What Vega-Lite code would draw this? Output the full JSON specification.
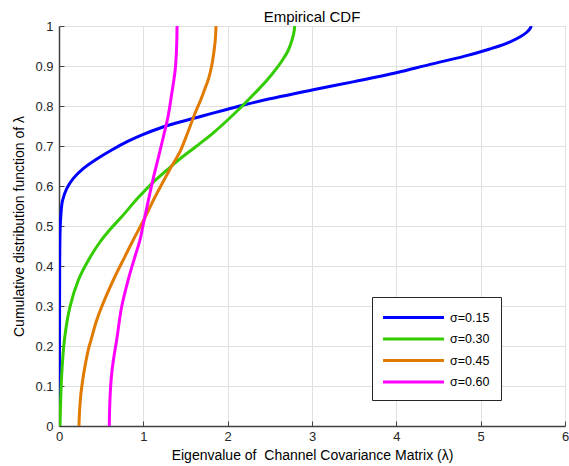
{
  "$schema": "https://vega.github.io/schema/vega-lite/v6.json",
  "width": 506,
  "height": 400,
  "autosize": {"type": "none"},
  "padding": {"left": 59, "top": 26, "right": 4, "bottom": 40},
  "background": "white",
  "title": {"text": "Empirical CDF", "font": "Liberation Sans", "fontSize": 15, "fontWeight": "normal", "color": "#000000", "anchor": "middle", "offset": -5},
  "config": {
    "view": {"stroke": null},
    "axis": {
      "labelFont": "Liberation Sans", "labelFontSize": 13, "labelColor": "#262626",
      "titleFont": "Liberation Sans", "titleFontSize": 14, "titleFontWeight": "normal", "titleColor": "#000000",
      "gridColor": "#e0e0e0", "gridWidth": 1, "gridOpacity": 1,
      "domainColor": "#404040", "domainWidth": 1.5, "tickColor": "#404040", "tickSize": -5, "tickWidth": 1
    },
    "legend": {"labelFont": "Liberation Sans", "labelFontSize": 12.5, "labelColor": "#000000"}
  },
  "data": {"values": [
    {"s": "σ=0.15", "x": 0.004, "y": 0},
    {"s": "σ=0.15", "x": 0.005, "y": 0.1},
    {"s": "σ=0.15", "x": 0.006, "y": 0.2},
    {"s": "σ=0.15", "x": 0.007, "y": 0.3},
    {"s": "σ=0.15", "x": 0.008, "y": 0.4},
    {"s": "σ=0.15", "x": 0.01, "y": 0.45},
    {"s": "σ=0.15", "x": 0.013, "y": 0.49},
    {"s": "σ=0.15", "x": 0.02, "y": 0.52},
    {"s": "σ=0.15", "x": 0.04, "y": 0.562},
    {"s": "σ=0.15", "x": 0.09, "y": 0.593},
    {"s": "σ=0.15", "x": 0.17, "y": 0.619},
    {"s": "σ=0.15", "x": 0.29, "y": 0.644},
    {"s": "σ=0.15", "x": 0.43, "y": 0.665},
    {"s": "σ=0.15", "x": 0.625, "y": 0.69},
    {"s": "σ=0.15", "x": 0.82, "y": 0.712},
    {"s": "σ=0.15", "x": 1.0, "y": 0.729},
    {"s": "σ=0.15", "x": 1.2, "y": 0.745},
    {"s": "σ=0.15", "x": 1.4, "y": 0.758},
    {"s": "σ=0.15", "x": 1.7, "y": 0.775},
    {"s": "σ=0.15", "x": 2.0, "y": 0.792},
    {"s": "σ=0.15", "x": 2.2, "y": 0.803},
    {"s": "σ=0.15", "x": 2.5, "y": 0.818},
    {"s": "σ=0.15", "x": 3.0, "y": 0.840},
    {"s": "σ=0.15", "x": 3.5, "y": 0.861},
    {"s": "σ=0.15", "x": 4.0, "y": 0.883},
    {"s": "σ=0.15", "x": 4.4, "y": 0.904},
    {"s": "σ=0.15", "x": 4.8, "y": 0.924},
    {"s": "σ=0.15", "x": 5.1, "y": 0.942},
    {"s": "σ=0.15", "x": 5.3, "y": 0.956},
    {"s": "σ=0.15", "x": 5.47, "y": 0.973},
    {"s": "σ=0.15", "x": 5.55, "y": 0.985},
    {"s": "σ=0.15", "x": 5.59, "y": 0.995},
    {"s": "σ=0.15", "x": 5.6, "y": 1.0},
    {"s": "σ=0.30", "x": 0.012, "y": 0},
    {"s": "σ=0.30", "x": 0.018, "y": 0.05},
    {"s": "σ=0.30", "x": 0.03, "y": 0.12},
    {"s": "σ=0.30", "x": 0.064, "y": 0.215},
    {"s": "σ=0.30", "x": 0.13, "y": 0.298},
    {"s": "σ=0.30", "x": 0.23, "y": 0.365},
    {"s": "σ=0.30", "x": 0.35, "y": 0.415},
    {"s": "σ=0.30", "x": 0.486, "y": 0.46},
    {"s": "σ=0.30", "x": 0.6, "y": 0.49},
    {"s": "σ=0.30", "x": 0.743, "y": 0.523},
    {"s": "σ=0.30", "x": 0.94, "y": 0.571},
    {"s": "σ=0.30", "x": 1.14, "y": 0.614},
    {"s": "σ=0.30", "x": 1.34, "y": 0.651},
    {"s": "σ=0.30", "x": 1.435, "y": 0.668},
    {"s": "σ=0.30", "x": 1.633, "y": 0.70},
    {"s": "σ=0.30", "x": 1.83, "y": 0.733},
    {"s": "σ=0.30", "x": 2.0, "y": 0.765},
    {"s": "σ=0.30", "x": 2.185, "y": 0.8025},
    {"s": "σ=0.30", "x": 2.34, "y": 0.836},
    {"s": "σ=0.30", "x": 2.46, "y": 0.863},
    {"s": "σ=0.30", "x": 2.58, "y": 0.894},
    {"s": "σ=0.30", "x": 2.66, "y": 0.918},
    {"s": "σ=0.30", "x": 2.72, "y": 0.94},
    {"s": "σ=0.30", "x": 2.76, "y": 0.963},
    {"s": "σ=0.30", "x": 2.785, "y": 0.983},
    {"s": "σ=0.30", "x": 2.795, "y": 1.0},
    {"s": "σ=0.45", "x": 0.237, "y": 0},
    {"s": "σ=0.45", "x": 0.242, "y": 0.03},
    {"s": "σ=0.45", "x": 0.255, "y": 0.07},
    {"s": "σ=0.45", "x": 0.27, "y": 0.098},
    {"s": "σ=0.45", "x": 0.3, "y": 0.14},
    {"s": "σ=0.45", "x": 0.35, "y": 0.193},
    {"s": "σ=0.45", "x": 0.38, "y": 0.215},
    {"s": "σ=0.45", "x": 0.44, "y": 0.26},
    {"s": "σ=0.45", "x": 0.506, "y": 0.298},
    {"s": "σ=0.45", "x": 0.644, "y": 0.365},
    {"s": "σ=0.45", "x": 0.78, "y": 0.423},
    {"s": "σ=0.45", "x": 0.88, "y": 0.465},
    {"s": "σ=0.45", "x": 1.0, "y": 0.513},
    {"s": "σ=0.45", "x": 1.14, "y": 0.573},
    {"s": "σ=0.45", "x": 1.32, "y": 0.644},
    {"s": "σ=0.45", "x": 1.435, "y": 0.686},
    {"s": "σ=0.45", "x": 1.52, "y": 0.73},
    {"s": "σ=0.45", "x": 1.60, "y": 0.775},
    {"s": "σ=0.45", "x": 1.68, "y": 0.815},
    {"s": "σ=0.45", "x": 1.73, "y": 0.843},
    {"s": "σ=0.45", "x": 1.77, "y": 0.866},
    {"s": "σ=0.45", "x": 1.81, "y": 0.9},
    {"s": "σ=0.45", "x": 1.84, "y": 0.94},
    {"s": "σ=0.45", "x": 1.855, "y": 0.97},
    {"s": "σ=0.45", "x": 1.862, "y": 1.0},
    {"s": "σ=0.60", "x": 0.597, "y": 0},
    {"s": "σ=0.60", "x": 0.6, "y": 0.04},
    {"s": "σ=0.60", "x": 0.612, "y": 0.098},
    {"s": "σ=0.60", "x": 0.632, "y": 0.145},
    {"s": "σ=0.60", "x": 0.664, "y": 0.19},
    {"s": "σ=0.60", "x": 0.684, "y": 0.215},
    {"s": "σ=0.60", "x": 0.743, "y": 0.298},
    {"s": "σ=0.60", "x": 0.82, "y": 0.365},
    {"s": "σ=0.60", "x": 0.90, "y": 0.423},
    {"s": "σ=0.60", "x": 0.96, "y": 0.465},
    {"s": "σ=0.60", "x": 1.0, "y": 0.505},
    {"s": "σ=0.60", "x": 1.1, "y": 0.603},
    {"s": "σ=0.60", "x": 1.18, "y": 0.673},
    {"s": "σ=0.60", "x": 1.24, "y": 0.725},
    {"s": "σ=0.60", "x": 1.296, "y": 0.777},
    {"s": "σ=0.60", "x": 1.336, "y": 0.83},
    {"s": "σ=0.60", "x": 1.362, "y": 0.865},
    {"s": "σ=0.60", "x": 1.38, "y": 0.895},
    {"s": "σ=0.60", "x": 1.391, "y": 0.93},
    {"s": "σ=0.60", "x": 1.397, "y": 0.965},
    {"s": "σ=0.60", "x": 1.40, "y": 1.0}
  ]},
  "mark": {"type": "line", "strokeWidth": 3, "interpolate": "catmull-rom", "clip": true},
  "encoding": {
    "x": {"field": "x", "type": "quantitative", "scale": {"domain": [0, 6], "nice": false, "zero": false},
      "axis": {"values": [0, 1, 2, 3, 4, 5, 6], "title": "Eigenvalue of\u00a0 Channel Covariance Matrix (λ)", "labelPadding": 9, "titlePadding": 5, "labelFlush": false}},
    "y": {"field": "y", "type": "quantitative", "scale": {"domain": [0, 1], "nice": false},
      "axis": {"values": [0, 0.1, 0.2, 0.3, 0.4, 0.5, 0.6, 0.7, 0.8, 0.9, 1], "format": "~g", "title": "Cumulative distribution function of λ", "labelPadding": 11, "titlePadding": 8}},
    "order": {"field": "y", "type": "quantitative"},
    "color": {"field": "s", "type": "nominal",
      "scale": {"domain": ["σ=0.15", "σ=0.30", "σ=0.45", "σ=0.60"], "range": ["#0000ff", "#33cc00", "#e07b00", "#ff00ff"]},
      "legend": {"title": null, "orient": "none", "legendX": 313, "legendY": 271, "symbolType": "M-4,0H4", "symbolSize": 232, "symbolStrokeWidth": 3, "symbolOffset": 21, "rowPadding": 5.5, "padding": 11, "strokeColor": "#262626", "fillColor": "white", "labelOffset": 27}}
  }
}
